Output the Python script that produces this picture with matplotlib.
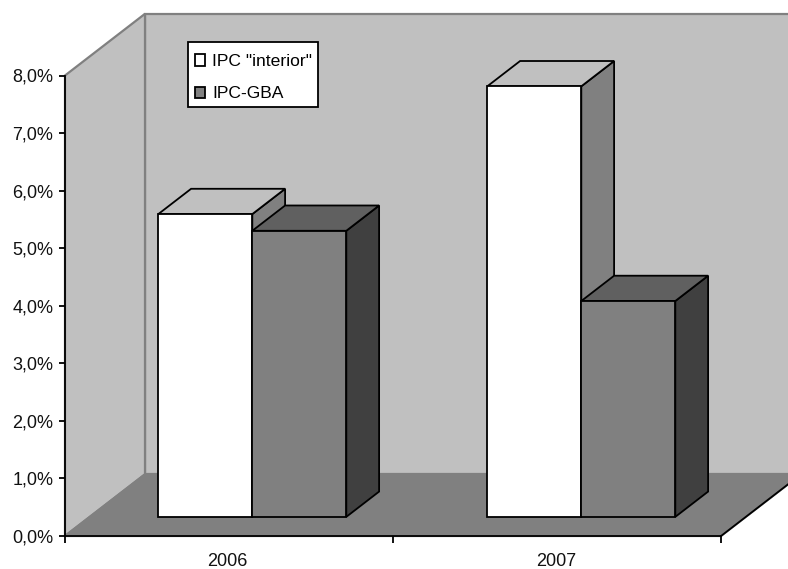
import matplotlib
matplotlib.use('Agg')
import matplotlib.pyplot as plt
from matplotlib.patches import Patch, Polygon, Rectangle

plt.rcParams['font.family'] = ['Liberation Sans', 'DejaVu Sans']

# values (height of the bars against the axis, in %)
years = ['2006', '2007']
ipc_interior = [5.26, 7.48]
ipc_gba = [4.97, 3.75]
yticks = [0, 1, 2, 3, 4, 5, 6, 7, 8]

W, H = 788, 569
fig = plt.figure(figsize=(W / 100, H / 100), dpi=100)
ax = fig.add_axes([65 / W, (H - 536) / H, 656 / W, 460.5 / H])
ax.set_xlim(0, len(years))
ax.set_ylim(0, 8)
ax.patch.set_alpha(0)

# oblique projection: one unit of depth moves a point this far in data units
DEPTH_X = 80 / 328
DEPTH_Y = 61.7 / 57.56
BAR_W = 94 / 328
BAR_D0, BAR_D1 = 0.31, 0.72


def centre(i):
    # the original's bars sit a pixel or so left of the category centre
    return i + 0.5 + (i - 1.5) / 328


def proj(x, y, d):
    return (x + d * DEPTH_X, y + d * DEPTH_Y)


def face(pts, fc, ec='black', lw=1.3, z=2):
    ax.add_patch(Polygon(pts, closed=True, facecolor=fc, edgecolor=ec, linewidth=lw,
                         joinstyle='miter', clip_on=False, zorder=z))


def box(x0, x1, h, front, top, side):
    d0, d1 = BAR_D0, BAR_D1
    face([proj(x1, 0, d0), proj(x1, 0, d1), proj(x1, h, d1), proj(x1, h, d0)], side)
    face([proj(x0, h, d0), proj(x1, h, d0), proj(x1, h, d1), proj(x0, h, d1)], top)
    face([proj(x0, 0, d0), proj(x1, 0, d0), proj(x1, h, d0), proj(x0, h, d0)], front)


nx = len(years)
# walls and floor
face([proj(0, 0, 1), proj(nx, 0, 1), proj(nx, 8, 1), proj(0, 8, 1)], '#c0c0c0', '#808080', 1.6, 1)
face([proj(0, 0, 0), proj(0, 0, 1), proj(0, 8, 1), proj(0, 8, 0)], '#c0c0c0', '#808080', 1.6, 1)
face([proj(0, 0, 0), proj(nx, 0, 0), proj(nx, 0, 1), proj(0, 0, 1)], '#808080', '#808080', 1.6, 1)
ax.plot([proj(nx, 0, 0)[0], proj(nx, 0, 1)[0]], [0, proj(nx, 0, 1)[1]], color='black',
        lw=1.3, clip_on=False, zorder=1.5)

for i in range(nx):
    c = centre(i)
    box(c - BAR_W, c, ipc_interior[i], 'white', '#c0c0c0', '#808080')
    box(c, c + BAR_W, ipc_gba[i], '#808080', '#606060', '#404040')

for s in ['top', 'right']:
    ax.spines[s].set_visible(False)
for s in ['left', 'bottom']:
    ax.spines[s].set_linewidth(1.3)
    ax.spines[s].set_zorder(5)

ax.set_yticks(yticks)
ax.set_yticklabels(['%d,0%%' % v for v in yticks], fontsize=13, color='#111111')
ax.set_xticks(range(nx + 1))
ax.set_xticklabels([])
ax.set_xticks([centre(i) for i in range(nx)], labels=years, minor=True, fontsize=13, color='#111111')
ax.tick_params(axis='y', length=4.5, width=1.3, pad=4)
ax.tick_params(axis='x', which='major', length=5, width=1.3)
ax.tick_params(axis='x', which='minor', length=0, pad=12)

# legend frame is separate so its padding can differ from the row spacing
fig.add_artist(Rectangle((188 / W, 1 - 107 / H), 130 / W, 65 / H, transform=fig.transFigure,
                         facecolor='white', edgecolor='black', linewidth=1.3, zorder=9))
handles = [Patch(facecolor='white', edgecolor='black', linewidth=1.3, label='IPC "interior"'),
           Patch(facecolor='#808080', edgecolor='black', linewidth=1.3, label='IPC-GBA')]
leg = fig.legend(handles=handles, loc='upper left', bbox_to_anchor=(194.5 / W, 1 - 54 / H),
                 borderaxespad=0, borderpad=0, fontsize=12.6, frameon=False,
                 handlelength=0.62, handleheight=0.62, handletextpad=0.38, labelspacing=1.0)
leg.set_zorder(10)

fig.savefig('out.png', dpi=100)
